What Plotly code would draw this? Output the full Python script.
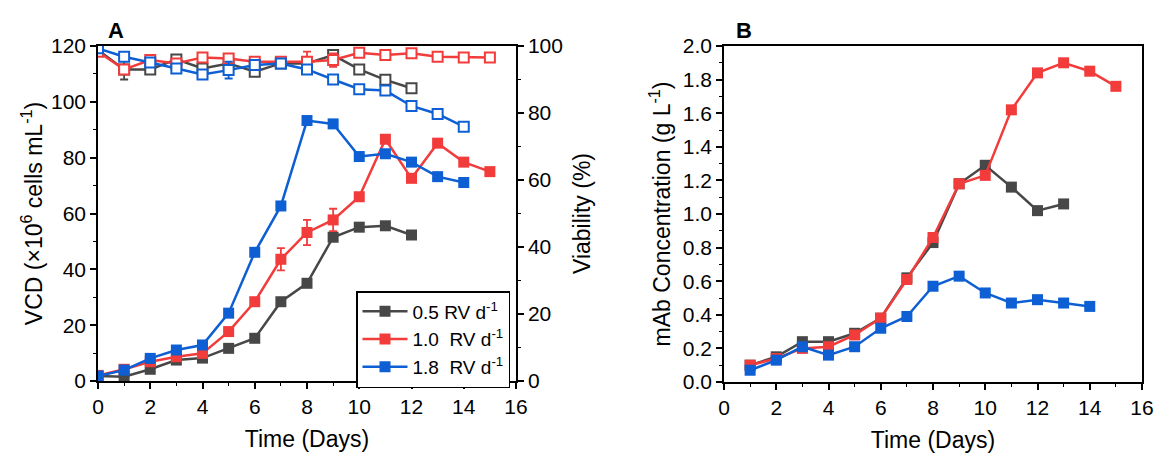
import plotly.graph_objects as go

# ---------------- data ----------------
days_05 = list(range(0, 13))
days_10 = list(range(0, 16))
days_18 = list(range(0, 15))

vcd_05 = [1.8, 1.5, 4.2, 7.5, 8.2, 11.7, 15.3, 28.4, 35.0, 51.5, 55.1, 55.6, 52.3]
vcd_10 = [2.0, 4.2, 6.9, 8.7, 9.9, 17.7, 28.4, 43.6, 53.2, 57.7, 66.0, 86.6, 72.6, 85.2, 78.4, 75.0]
vcd_18 = [1.8, 3.9, 8.1, 11.1, 12.9, 24.3, 46.1, 62.7, 93.3, 92.1, 80.4, 81.4, 78.4, 73.2, 71.1]
vcd_10_err = [0, 0.8, 0.8, 0.6, 0.6, 0.8, 1.0, 4.0, 4.5, 4.0, 0.8, 0.8, 0.8, 0.8, 0.8, 0.8]

via_05 = [98.8, 93.0, 93.0, 96.0, 93.3, 94.8, 92.3, 94.8, 94.8, 97.3, 93.0, 89.9, 87.4]
via_10 = [98.3, 93.0, 95.8, 94.8, 96.6, 96.3, 95.3, 95.3, 95.3, 95.8, 98.0, 97.3, 97.8, 96.8, 96.6, 96.6]
via_18 = [99.3, 96.8, 95.1, 93.3, 91.5, 92.8, 94.3, 94.8, 93.0, 90.0, 87.1, 86.7, 82.1, 79.7, 75.9]
via_05_err = [0, 3.0, 1.2, 1.0, 1.0, 0.5, 0.8, 0.5, 0.5, 0.5, 0.5, 0.5, 0.5]
via_10_err = [0, 1.0, 1.0, 1.0, 1.0, 1.0, 0.5, 0.5, 3.0, 2.0, 0.5, 0.5, 0.5, 0.5, 0.5, 0.5]
via_18_err = [0, 0.5, 0.8, 0.8, 0.8, 2.5, 0.8, 0.8, 0.5, 0.5, 0.5, 0.5, 0.5, 0.5, 0.5]

mab_days_05 = list(range(1, 14))
mab_days_10 = list(range(1, 16))
mab_days_18 = list(range(1, 15))
mab_05 = [0.10, 0.15, 0.24, 0.24, 0.29, 0.38, 0.62, 0.83, 1.18, 1.29, 1.16, 1.02, 1.06]
mab_10 = [0.10, 0.14, 0.20, 0.21, 0.28, 0.38, 0.61, 0.86, 1.18, 1.23, 1.62, 1.84, 1.90, 1.85, 1.76]
mab_18 = [0.07, 0.13, 0.21, 0.16, 0.21, 0.32, 0.39, 0.57, 0.63, 0.53, 0.47, 0.49, 0.47, 0.45]

labels = ["0.5 RV d<sup>-1</sup>", "1.0  RV d<sup>-1</sup>", "1.8  RV d<sup>-1</sup>"]
colors = ["#474747", "#f23b3b", "#0d5fd3"]

W, H = 1156, 457
FONT = "Liberation Sans, Arial, sans-serif"
TICK = 21
TITLE = 23


def px_x(p):
    return p / W


def px_y(p):
    return 1 - p / H


fig = go.Figure()

vcd_sets = [(days_05, vcd_05, None), (days_10, vcd_10, vcd_10_err), (days_18, vcd_18, None)]
via_sets = [(days_05, via_05, via_05_err), (days_10, via_10, via_10_err), (days_18, via_18, via_18_err)]
mab_sets = [(mab_days_05, mab_05), (mab_days_10, mab_10), (mab_days_18, mab_18)]

# viability (open squares) on right axis
for (x, y, e), c in zip(via_sets, colors):
    fig.add_trace(go.Scatter(
        x=x, y=y, xaxis="x", yaxis="y2", mode="lines+markers", showlegend=False,
        line=dict(color=c, width=2.5),
        marker=dict(symbol="square", size=10, color="white", line=dict(color=c, width=2)),
        error_y=dict(type="data", array=e, visible=True, color=c, thickness=1.8, width=4),
    ))

# VCD (filled squares)
for (x, y, e), c, lab in zip(vcd_sets, colors, labels):
    fig.add_trace(go.Scatter(
        x=x, y=y, xaxis="x", yaxis="y", mode="lines+markers", name=lab,
        line=dict(color=c, width=2.5),
        marker=dict(symbol="square", size=11, color=c),
        error_y=(dict(type="data", array=e, visible=True, color=c, thickness=1.8, width=4)
                 if e is not None else None),
    ))

# mAb
for (x, y), c, lab in zip(mab_sets, colors, labels):
    fig.add_trace(go.Scatter(
        x=x, y=y, xaxis="x2", yaxis="y3", mode="lines+markers", showlegend=False,
        line=dict(color=c, width=2.5),
        marker=dict(symbol="square", size=11, color=c),
    ))

axis_common = dict(
    showgrid=False, zeroline=False, showline=True, linecolor="black", linewidth=1.5,
    ticks="outside", ticklen=6, tickwidth=1.5, tickcolor="black", automargin=False,
    tickfont=dict(family=FONT, size=TICK, color="black"),
    minor=dict(ticks="outside", ticklen=3.5, tickwidth=1.3, tickcolor="black"),
)

fig.update_layout(
    width=W, height=H, margin=dict(l=0, r=0, t=0, b=0),
    paper_bgcolor="white", plot_bgcolor="white",
    font=dict(family=FONT, color="black"),
    xaxis=dict(axis_common, domain=[px_x(98), px_x(516)], range=[0, 16], dtick=2,
               minor=dict(axis_common["minor"], dtick=1), mirror=True, anchor="y",
               title=dict(text="Time (Days)", font=dict(size=TITLE), standoff=14)),
    yaxis=dict(axis_common, domain=[px_y(381), px_y(46)], range=[0, 120], dtick=20,
               minor=dict(axis_common["minor"], dtick=10), anchor="x",
               title=dict(text="VCD (×10<sup>6</sup> cells mL<sup>-1</sup>)", font=dict(size=TITLE), standoff=2)),
    yaxis2=dict(axis_common, overlaying="y", side="right", range=[0, 100], dtick=20,
                minor=dict(axis_common["minor"], dtick=10), anchor="x",
                title=dict(text="Viability (%)", font=dict(size=TITLE), standoff=12)),
    xaxis2=dict(axis_common, domain=[px_x(724), px_x(1142)], range=[0, 16], dtick=2,
                minor=dict(axis_common["minor"], dtick=1), mirror=True, anchor="y3",
                title=dict(text="Time (Days)", font=dict(size=TITLE), standoff=14)),
    yaxis3=dict(axis_common, domain=[px_y(382), px_y(46)], range=[0, 2.0], dtick=0.2,
                tickformat=".1f", minor=dict(axis_common["minor"], dtick=0.1), mirror=True,
                anchor="x2",
                title=dict(text="mAb Concentration (g L<sup>-1</sup>)", font=dict(size=TITLE), standoff=6)),
    legend=dict(x=px_x(356), y=px_y(291), xanchor="left", yanchor="top",
                bgcolor="white", bordercolor="black", borderwidth=1.5,
                font=dict(family=FONT, size=19, color="black"),
                tracegroupgap=0, itemwidth=45),
    annotations=[
        dict(text="<b>A</b>", x=px_x(106), y=px_y(30), xref="paper", yref="paper",
             xanchor="left", yanchor="middle", showarrow=False, font=dict(size=22)),
        dict(text="<b>B</b>", x=px_x(734), y=px_y(30), xref="paper", yref="paper",
             xanchor="left", yanchor="middle", showarrow=False, font=dict(size=22)),
    ],
)

fig.write_html(
    "out.html",
    config={"displayModeBar": False},
    post_script="document.body.style.margin='0';document.body.style.padding='0';document.body.style.overflow='hidden';",
)
